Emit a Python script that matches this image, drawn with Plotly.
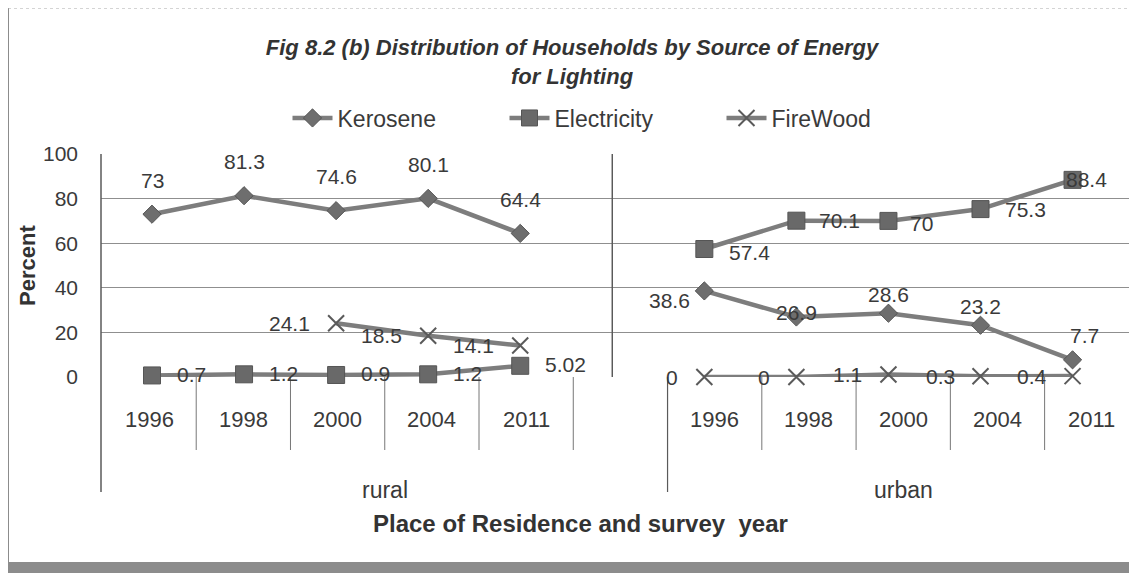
import plotly.graph_objects as go

# ---- data ----
years = ["1996", "1998", "2000", "2004", "2011"]
places = ["rural", "urban"]

kerosene_rural = [73, 81.3, 74.6, 80.1, 64.4]
kerosene_urban = [38.6, 26.9, 28.6, 23.2, 7.7]
electricity_rural = [0.7, 1.2, 0.9, 1.2, 5.02]
electricity_urban = [57.4, 70.1, 70, 75.3, 88.4]
firewood_rural = [None, None, 24.1, 18.5, 14.1]
firewood_urban = [0, 0, 1.1, 0.3, 0.4]

y_ticks = [0, 20, 40, 60, 80, 100]

# ---- geometry helpers ----
# the page body has an 8px margin, so the figure sits 8px right/down in the window;
# positions below are given in window pixels and shifted back by OFF
W, H = 1137, 573
OFF = 8
L, T = 101 - OFF, 154 - OFF
R = OFF
B = H - (377 - OFF)
PW, PH = W - L - R, H - T - B


def py(p):
    # window pixel row -> paper y
    return (H - B - (p - OFF)) / PH


def px(p):
    # window pixel column -> paper x
    return (p - OFF - L) / PW


# categories: rural on 0..4, blank slot on 5, urban on 6..10
x_rural = list(range(len(years)))
x_urban = [len(years) + 1 + i for i in range(len(years))]
x_all = x_rural + [len(years)] + x_urban


def join(r, u):
    return list(r) + [None] + list(u)


series = [
    ("Kerosene", join(kerosene_rural, kerosene_urban),
     dict(symbol="diamond", size=14, color="#6e6e6e", line=dict(color="#555", width=1))),
    ("Electricity", join(electricity_rural, electricity_urban),
     dict(symbol="square", size=17, color="#696969", line=dict(color="#555", width=1))),
    ("FireWood", join(firewood_rural, firewood_urban),
     dict(symbol="x-thin-open", size=16, color="#5a5a5a", line=dict(color="#5a5a5a", width=2))),
]

# label placement per point (xanchor, dx, dy) -- rural 5, gap, urban 5
above = ("center", 0, 34)
lab_pos = {
    "Kerosene": [above] * 5 + [None] + [("right", -12, -10), ("center", 0, 5), ("center", 0, 19),
                                        ("center", 0, 19), ("center", 12, 24)],
    "Electricity": [("left", 23, 1)] * 5 + [None] + [("left", 23, -3), ("left", 21, 0), ("left", 20, -3),
                                                     ("left", 22, 0), ("left", -9, 0)],
    "FireWood": [("right", -24, 0)] * 5 + [None] + [("right", -24, 0)] * 5,
}

FONT = "Liberation Sans, Arial, sans-serif"
TXT = "#3a3a3a"

fig = go.Figure()
for name, ys, mk in series:
    fig.add_trace(go.Scatter(
        x=x_all, y=ys, name=name, mode="lines+markers",
        line=dict(color="#7d7d7d", width=4.5),
        marker=mk, connectgaps=False, cliponaxis=False))

annotations = []
for name, ys, mk in series:
    for x, y, pos in zip(x_all, ys, lab_pos[name]):
        if y is None or pos is None:
            continue
        xa, dx, dy = pos
        annotations.append(dict(
            x=x, y=y, xref="x", yref="y", text=f"{y:g}", showarrow=False,
            xanchor=xa, yanchor="middle", xshift=dx, yshift=dy,
            font=dict(family=FONT, size=21, color=TXT)))

# year labels and group labels under the axis (label axis x2)
for xs in (x_rural, x_urban):
    for x, yr in zip(xs, years):
        annotations.append(dict(
            x=x, y=py(419), xref="x2", yref="paper", text=yr, showarrow=False,
            yanchor="middle", font=dict(family=FONT, size=22, color=TXT)))
annotations.append(dict(x=2.5, y=py(490), xref="x2", yref="paper", text=places[0],
                        showarrow=False, yanchor="middle",
                        font=dict(family=FONT, size=23, color=TXT)))
annotations.append(dict(x=8, y=py(490), xref="x2", yref="paper", text=places[1],
                        showarrow=False, yanchor="middle",
                        font=dict(family=FONT, size=23, color=TXT)))
# axis titles
annotations.append(dict(x=px(580), y=py(523), xref="paper", yref="paper",
                        text="<b>Place of Residence and survey\u00a0 year</b>", showarrow=False,
                        yanchor="middle", font=dict(family=FONT, size=24, color="#333")))
annotations.append(dict(x=px(27), y=py(266), xref="paper", yref="paper",
                        text="<b>Percent</b>", showarrow=False, textangle=-90,
                        xanchor="center", yanchor="middle",
                        font=dict(family=FONT, size=22, color="#333")))

shapes = []
line_c = "#5a5a5a"
# plot-area divider between rural and urban
shapes.append(dict(type="line", xref="x", yref="y", x0=5, x1=5, y0=0, y1=100,
                   line=dict(color=line_c, width=1.5)))
# left axis line incl. extension down through the label area
shapes.append(dict(type="line", xref="paper", yref="paper", x0=0, x1=0, y0=1, y1=py(492),
                   line=dict(color=line_c, width=1.5)))
# category separators below the axis
for xb in [0.5, 1.5, 2.5, 3.5, 4.5, 6.5, 7.5, 8.5, 9.5]:
    shapes.append(dict(type="line", xref="x2", yref="paper", x0=xb, x1=xb, y0=0, y1=py(450),
                       line=dict(color="#777", width=1)))
shapes.append(dict(type="line", xref="x2", yref="paper", x0=5.5, x1=5.5, y0=0, y1=py(492),
                   line=dict(color=line_c, width=1.2)))
# chart frame (scan border)
shapes.append(dict(type="line", xref="paper", yref="paper", x0=px(8), x1=px(8), y0=py(8), y1=py(562),
                   line=dict(color="#666", width=1.5)))
shapes.append(dict(type="line", xref="paper", yref="paper", x0=px(8), x1=px(1145), y0=py(8), y1=py(8),
                   line=dict(color="#aaa", width=1, dash="dot")))
shapes.append(dict(type="rect", xref="paper", yref="paper", x0=px(0), x1=px(1145), y0=py(562), y1=py(581),
                   fillcolor="#8c8c8c", line=dict(width=0)))

fig.update_layout(
    width=W, height=H,
    margin=dict(l=L, r=R, t=T, b=B),
    paper_bgcolor="white", plot_bgcolor="white",
    title=dict(text="Fig 8.2 (b) Distribution of Households by Source of Energy<br>for Lighting",
               x=564 / W, xref="container", xanchor="center",
               y=1 - 47 / H, yref="container", yanchor="top",
               font=dict(family=FONT, size=22, color="#333", style="italic", weight="bold")),
    legend=dict(orientation="h", xref="container", x=605 / W, xanchor="center",
                yref="container", y=1 - 110 / H, yanchor="middle",
                font=dict(family=FONT, size=23, color=TXT),
                entrywidth=162, itemwidth=40, bgcolor="rgba(0,0,0,0)"),
    xaxis=dict(range=[-0.554, 10.70], showticklabels=False, showgrid=False, zeroline=False,
               showline=False, ticks="", automargin=False),
    # label axis for the multi-level category text below the plot
    xaxis2=dict(range=[-0.51, 10.48], overlaying="x", visible=False),
    yaxis=dict(range=[0, 100], tickvals=y_ticks, showgrid=True, gridcolor="#8f8f8f", gridwidth=1,
               zeroline=False, showline=False, ticks="", ticklabelstandoff=22, automargin=False,
               tickfont=dict(family=FONT, size=21, color=TXT)),
    annotations=annotations,
    shapes=shapes,
    showlegend=True,
)

fig.write_html("out.html")
